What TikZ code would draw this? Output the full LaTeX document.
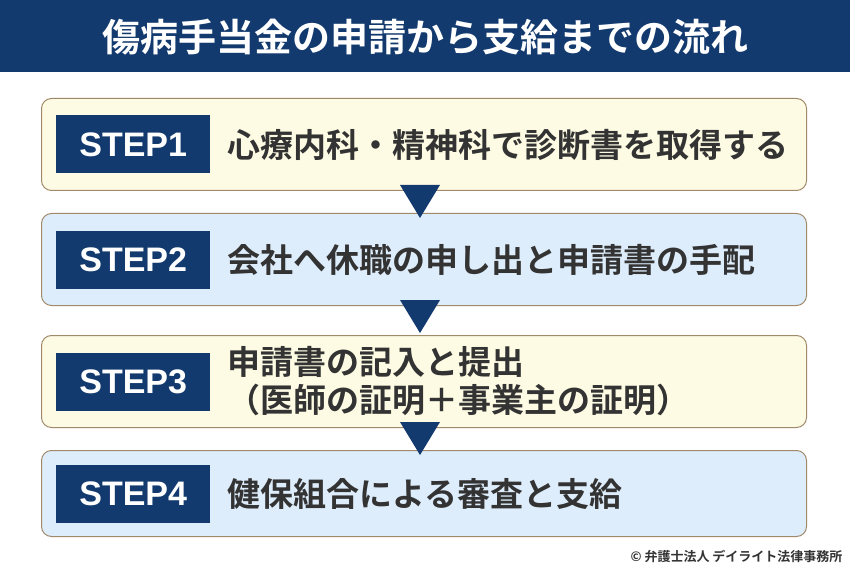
\documentclass[tikz,border=0pt]{standalone}
\usepackage{fontspec}
\setmainfont{Liberation Sans}
\newfontfamily\cjk{Noto Sans CJK JP}[BoldFont={* Bold}]
\usetikzlibrary{positioning}
\definecolor{navy}{HTML}{133A6E}
\definecolor{paleyellow}{HTML}{FDFBE3}
\definecolor{paleblue}{HTML}{DEEDFB}
\definecolor{boxline}{HTML}{A08A6A}
\definecolor{textgray}{HTML}{333333}
\tikzset{
  stepbox/.style={draw=boxline, line width=1pt, rounded corners=10pt, minimum width=765pt, anchor=north west, inner sep=0pt},
  steplabel/.style={fill=navy, text=white, minimum width=154pt, minimum height=58pt, font=\fontsize{34}{34}\selectfont\bfseries},
  steptext/.style={text=textgray, anchor=west, align=left, font=\fontsize{33}{38}\selectfont\cjk\bfseries},
  downarrow/.style={fill=navy}
}
\begin{document}
\begin{tikzpicture}[x=1pt,y=-1pt]
\useasboundingbox (0,0) rectangle (850,577);
\fill[navy] (0,0) rectangle (850,72);
\node[text=white, font=\fontsize{38}{38}\selectfont\cjk\bfseries] (title) at (425,37) {傷病手当金の申請から支給までの流れ};
% boxes
\node[stepbox, fill=paleyellow, minimum height=92pt] (b1) at (41,98) {};
\node[stepbox, fill=paleblue, minimum height=92pt] (b2) at (41,213) {};
\node[stepbox, fill=paleyellow, minimum height=92pt] (b3) at (41,335) {};
\node[stepbox, fill=paleblue, minimum height=86pt] (b4) at (41,450) {};
% arrows
\fill[downarrow] (400,185) -- (440,185) -- (420,218) -- cycle;
\fill[downarrow] (400,300) -- (440,300) -- (420,333) -- cycle;
\fill[downarrow] (400,422) -- (440,422) -- (420,455) -- cycle;
% labels
\foreach \i in {1,...,4}{
  \node[steplabel, right=15pt of b\i.west] (s\i) {STEP\i};
}
\node[steptext, right=14pt of s1] (t1) {心療内科・精神科で診断書を取得する};
\node[steptext, right=14pt of s2] (t2) {会社へ休職の申し出と申請書の手配};
\node[steptext, right=14pt of s3] (t3) {申請書の記入と提出\\（医師の証明＋事業主の証明）};
\node[steptext, right=14pt of s4] (t4) {健保組合による審査と支給};
\node[text=textgray, anchor=east, font=\fontsize{13}{13}\selectfont\cjk\bfseries] (credit) at (846,556) {© 弁護士法人 デイライト法律事務所};
\end{tikzpicture}
\end{document}
